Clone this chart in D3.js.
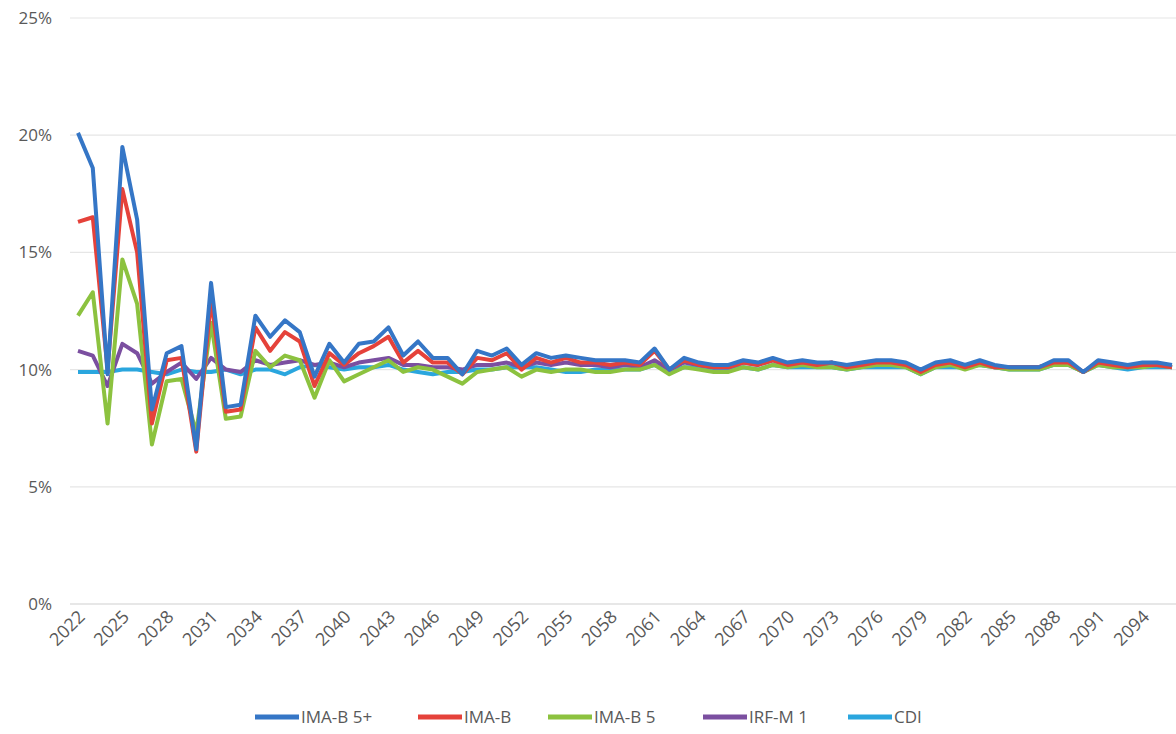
<!DOCTYPE html>
<html><head><meta charset="utf-8">
<script src="https://cdn.jsdelivr.net/npm/d3@7"></script>
<style>body{margin:0;background:#fff;font-family:"Open Sans",Calibri,sans-serif}</style>
</head><body>
<script>
const years = d3.range(2022, 2097);
const imab5p = [20.1,18.6,9.8,19.5,16.4,8.3,10.7,11.0,6.6,13.7,8.4,8.5,12.3,11.4,12.1,11.6,9.7,11.1,10.3,11.1,11.2,11.8,10.6,11.2,10.5,10.5,9.8,
  10.8,10.6,10.9,10.2,10.7,10.5,10.6,10.5,10.4,10.4,10.4,10.3,10.9,10.0,10.5,10.3,10.2,10.2,10.4,10.3,10.5,10.3,10.4,10.3,10.3,10.2,10.3,10.4,10.4,10.3,10.0,10.3,10.4,10.2,10.4,10.2,10.1,10.1,10.1,10.4,10.4,9.9,10.4,10.3,10.2,10.3,10.3,10.2,10.3];
const imab = [16.3,16.5,10.0,17.7,15.0,7.7,10.4,10.5,6.5,13.0,8.2,8.3,11.8,10.8,11.6,11.2,9.3,10.7,10.2,10.7,11.0,11.4,10.3,10.8,10.3,10.3,9.8,
  10.5,10.4,10.7,10.0,10.5,10.3,10.5,10.3,10.3,10.2,10.3,10.2,10.8,10.0,10.4,10.2,10.1,10.1,10.3,10.2,10.4,10.2,10.3,10.2,10.3,10.1,10.2,10.3,10.3,10.2,9.9,10.2,10.3,10.1,10.3,10.1,10.1,10.1,10.1,10.3,10.3,9.9,10.3,10.2,10.1,10.2,10.2,10.1,10.2];
const imab5 = [12.3,13.3,7.7,14.7,12.8,6.8,9.5,9.6,7.3,12.0,7.9,8.0,10.8,10.1,10.6,10.4,8.8,10.4,9.5,9.8,10.1,10.4,9.9,10.1,10.0,9.7,9.4,
  9.9,10.0,10.1,9.7,10.0,9.9,10.0,10.0,9.9,9.9,10.0,10.0,10.2,9.8,10.1,10.0,9.9,9.9,10.1,10.0,10.2,10.1,10.2,10.1,10.1,10.0,10.1,10.2,10.2,10.1,9.8,10.1,10.2,10.0,10.2,10.1,10.0,10.0,10.0,10.2,10.2,9.9,10.2,10.1,10.1,10.1,10.2,10.1,10.2];
const irfm1 = [10.8,10.6,9.3,11.1,10.7,9.4,9.9,10.3,9.6,10.5,10.0,9.9,10.4,10.2,10.3,10.4,10.2,10.3,10.1,10.3,10.4,10.5,10.2,10.2,10.1,10.1,10.0,
  10.2,10.2,10.3,10.1,10.3,10.2,10.3,10.2,10.2,10.1,10.2,10.1,10.4,10.0,10.3,10.2,10.1,10.1,10.3,10.2,10.4,10.2,10.3,10.2,10.3,10.1,10.2,10.3,10.3,10.2,9.9,10.2,10.3,10.1,10.3,10.1,10.1,10.1,10.1,10.3,10.3,9.9,10.3,10.2,10.1,10.2,10.2,10.1,10.2];
const cdi = [9.9,9.9,9.9,10.0,10.0,9.9,9.8,10.0,9.9,9.9,10.0,9.8,10.0,10.0,9.8,10.1,10.2,10.1,10.0,10.1,10.1,10.2,10.0,9.9,9.8,9.9,9.9,
  10.0,10.0,10.1,10.1,10.1,10.0,9.9,9.9,10.0,10.0,10.0,10.0,10.2,9.9,10.1,10.1,10.0,10.0,10.1,10.0,10.2,10.1,10.1,10.1,10.1,10.0,10.1,10.1,10.1,10.1,9.8,10.1,10.1,10.1,10.2,10.1,10.0,10.0,10.0,10.2,10.2,9.9,10.2,10.1,10.0,10.1,10.1,10.1,10.1];
const seriesNames = ["IMA-B 5+","IMA-B","IMA-B 5","IRF-M 1","CDI"];
const seriesValues = [imab5p, imab, imab5, irfm1, cdi];
const colors = ["#3576c6","#e5423a","#8cc23f","#7b4fa0","#2aa6de"];
const yTicks = [0,5,10,15,20,25];

const W = 1176, H = 734;
const svg = d3.select("body").append("svg").attr("width", W).attr("height", H);

const x = d3.scaleLinear().domain([2022, 2096]).range([78, 1172]);
const y = d3.scaleLinear().domain([0, 25]).range([604, 18]);

svg.append("g").selectAll("line").data(yTicks).enter().append("line")
   .attr("x1", 70).attr("x2", 1176)
   .attr("y1", d => y(d)).attr("y2", d => y(d))
   .attr("stroke", d => d === 0 ? "#d0d0d0" : "#e6e6e6").attr("stroke-width", 1.2);

svg.append("g").selectAll("text").data(yTicks).enter().append("text")
   .attr("x", 52).attr("y", d => y(d) + 6)
   .attr("text-anchor", "end").attr("fill", "#595959").style("font-size", "17px")
   .text(d => d + "%");

svg.append("g").selectAll("text").data(years.filter(d => (d - 2022) % 3 === 0)).enter().append("text")
   .attr("transform", d => "translate(" + (x(d) + 8) + ",618) rotate(-45)")
   .attr("text-anchor", "end").attr("fill", "#595959").style("font-size", "18px")
   .text(d => d);

const line = d3.line().x((d, i) => x(years[i])).y(d => y(d));
// draw in reverse so IMA-B 5+ ends on top
for (let k = seriesValues.length - 1; k >= 0; k--) {
  svg.append("path").datum(seriesValues[k])
     .attr("d", line).attr("fill", "none")
     .attr("stroke", colors[k]).attr("stroke-width", 4).attr("stroke-linejoin", "round");
}

const legX = [255, 418, 548, 703, 848];
const leg = svg.append("g").selectAll("g").data(seriesNames).enter().append("g")
   .attr("transform", (d, i) => "translate(" + legX[i] + ",717)");
leg.append("line").attr("x1", 0).attr("x2", 44).attr("stroke", (d, i) => colors[i]).attr("stroke-width", 5);
leg.append("text").attr("x", 46).attr("y", 6).attr("fill", "#595959").style("font-size", "17px").text(d => d);
</script>
</body></html>
